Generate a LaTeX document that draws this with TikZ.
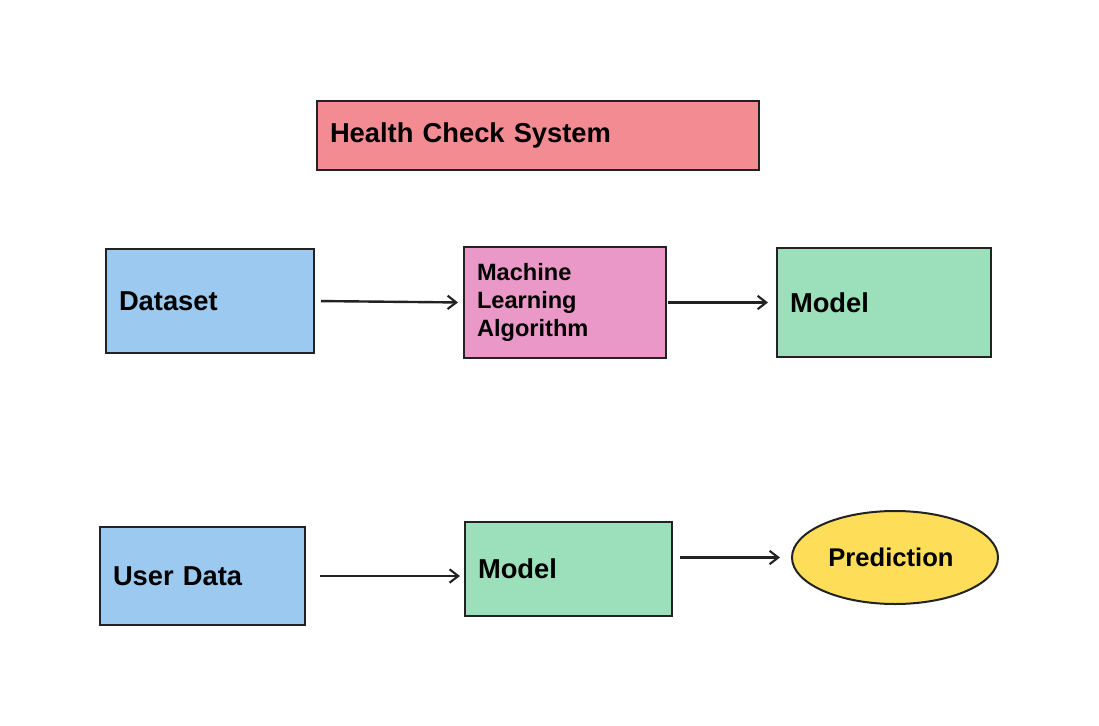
\documentclass[tikz,border=0pt]{standalone}
\usepackage{fontspec}
\setmainfont{Liberation Sans}
\usetikzlibrary{arrows.meta,shapes.geometric,positioning,calc}
\definecolor{titlered}{RGB}{242,139,146}
\definecolor{datablue}{RGB}{155,201,239}
\definecolor{algpink}{RGB}{234,152,199}
\definecolor{modelgreen}{RGB}{156,224,187}
\definecolor{predyellow}{RGB}{254,222,89}
\definecolor{edge}{RGB}{34,34,34}
\tikzset{
	block/.style={
		rectangle, draw=edge, line width=1.5pt, inner xsep=9.75pt,
		font=\bfseries\fontsize{20.5}{24}\selectfont, align=left
	},
	%
	oval/.style={
		ellipse, draw=edge, line width=1.5pt, fill=predyellow, inner sep=0pt,
		font=\bfseries\fontsize{19.2}{23}\selectfont
	},
	%
	flow/.style={
		-{Straight Barb[length=6.5pt,width=10pt,line width=1.6pt]},
		line width=1.8pt, draw=edge
	}
}
\begin{document}
\begin{tikzpicture}[x=0.75pt,y=-0.75pt]
    \useasboundingbox (0,0) rectangle (1099,725);
    \node(hcs)[block, fill=titlered, minimum height=51.75pt, text width=312pt] at (538,135.5) {\raisebox{-2pt}{Health Check System}};
    \node(data)[block, fill=datablue, minimum height=78pt, text width=136.5pt] at (210,301) {Dataset};
    \node(mla)[block, fill=algpink, minimum height=83.25pt, text width=132pt,
        font=\bfseries\fontsize{17.7}{21}\selectfont] at (565,302.5) {Machine\\Learning\\Algorithm};
    \node(model)[block, fill=modelgreen, minimum height=81.75pt, text width=141pt] at (884,302.5) {Model};
    \node(user)[block, fill=datablue, minimum height=73.5pt, text width=134.25pt] at (202.5,576) {User Data};
    \node(model2)[block, fill=modelgreen, minimum height=70.5pt, text width=135.75pt] at (568.5,569) {Model};
    \node(pred)[oval, minimum width=154.5pt, minimum height=69.75pt] at (895,557.5) {Prediction\hspace*{6pt}};
    \draw[flow, shorten <=4.5pt, shorten >=3.75pt] (data.east) -- (mla.west);
    \draw[flow, shorten <=0.75pt, shorten >=6pt] (mla.east) -- (model.west);
    \draw[flow, shorten <=10.5pt, shorten >=3pt] (user.east) -- (user.east -| model2.west);
    \draw[flow, shorten <=5.25pt, shorten >=8.25pt] (pred.west -| model2.east) -- (pred.west);
\end{tikzpicture}
\end{document}
